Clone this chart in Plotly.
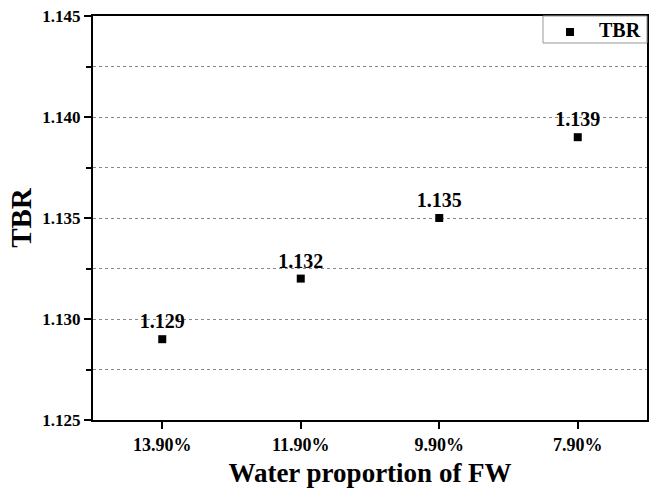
import plotly.graph_objects as go

categories = ["13.90%", "11.90%", "9.90%", "7.90%"]
tbr_values = [1.129, 1.132, 1.135, 1.139]
value_labels = ["1.129", "1.132", "1.135", "1.139"]
series_name = "TBR"

FONT = "Liberation Serif, Times New Roman, serif"

fig = go.Figure()
fig.add_trace(go.Scatter(
    x=categories, y=tbr_values, mode="markers+text", name=series_name,
    marker=dict(symbol="square", size=8, color="black"),
    text=value_labels, textposition="top center",
    textfont=dict(family=FONT, size=20, color="black", weight="bold"),
    showlegend=False,
))

# legend box drawn manually (inside top-right corner)
fig.add_shape(type="rect", xref="paper", yref="paper", x0=0.8123, x1=1.0, y0=0.9332, y1=1.0,
              line=dict(color="#999999", width=1), fillcolor="white", layer="above")
fig.add_shape(type="rect", xref="paper", yref="paper", x0=0.8538, x1=0.8682, y0=0.9505, y1=0.9703,
              line=dict(width=0), fillcolor="black", layer="above")
fig.add_annotation(xref="paper", yref="paper", x=0.9513, y=0.9645, text=series_name, showarrow=False,
                   font=dict(family=FONT, size=20, color="black", weight="bold"),
                   xanchor="center", yanchor="middle")

fig.update_layout(
    width=658, height=490,
    margin=dict(l=93, r=11, t=16, b=70),
    plot_bgcolor="white", paper_bgcolor="white",
    font=dict(family=FONT, color="black"),
    showlegend=False,
    xaxis=dict(
        type="category", range=[-0.5, 3.5],
        showline=True, linecolor="black", linewidth=2, mirror=True,
        ticks="outside", ticklen=7, tickwidth=2, tickcolor="black",
        showgrid=False, zeroline=False, automargin=False,
        tickfont=dict(family=FONT, size=18, color="black", weight="bold"),
        title=dict(text="Water proportion of FW", font=dict(family=FONT, size=27, color="black", weight="bold"), standoff=10),
    ),
    yaxis=dict(
        range=[1.125, 1.145], dtick=0.005, tick0=1.125, tickformat=".3f",
        showline=True, linecolor="black", linewidth=2, mirror=True,
        ticks="outside", ticklen=7, tickwidth=2, tickcolor="black",
        showgrid=True, gridcolor="#888888", gridwidth=1, griddash="dot",
        zeroline=False, automargin=False,
        minor=dict(dtick=0.0025, tick0=1.125, ticks="outside", ticklen=5, tickwidth=2, tickcolor="black",
                   showgrid=True, gridcolor="#888888", gridwidth=1, griddash="dot"),
        tickfont=dict(family=FONT, size=17, color="black", weight="bold"),
        title=dict(text="TBR", font=dict(family=FONT, size=29, color="black", weight="bold"), standoff=2),
    ),
)

fig.write_html("out.html", config={"displayModeBar": False},
               post_script="document.body.style.margin='0px';")
